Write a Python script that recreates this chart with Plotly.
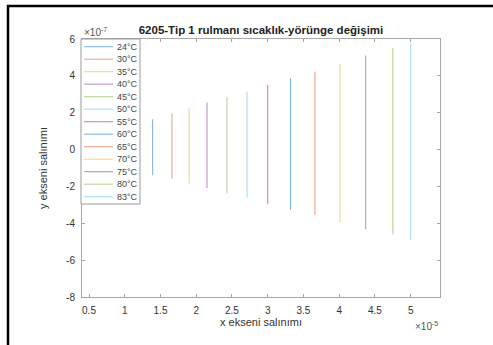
import plotly.graph_objects as go

# ---- data (x in units of 1e-5, y in units of 1e-7) ----
temps = ["24°C", "30°C", "35°C", "40°C", "45°C", "50°C", "55°C",
         "60°C", "65°C", "70°C", "75°C", "80°C", "83°C"]
x_pos = [1.39, 1.66, 1.90, 2.15, 2.43, 2.71, 3.00, 3.32, 3.66, 4.01, 4.37, 4.75, 5.00]
y_top = [1.65, 1.97, 2.24, 2.55, 2.84, 3.15, 3.51, 3.88, 4.24, 4.64, 5.10, 5.52, 5.76]
y_bot = [-1.40, -1.58, -1.85, -2.08, -2.37, -2.62, -2.95, -3.28, -3.55, -3.96, -4.33, -4.60, -4.90]
x_ticks = [0.5, 1, 1.5, 2, 2.5, 3, 3.5, 4, 4.5, 5]
y_ticks = [-8, -6, -4, -2, 0, 2, 4, 6]

colors = ["#0072BD", "#D95319", "#EDB120", "#7E2F8E", "#77AC30", "#4DBEEE", "#A2142F"]

W, H = 493, 345
L, R, T, B = 82, 53, 39, 48
PW, PH = W - L - R, H - T - B

def px_x(p):
    return (p - L) / PW

def px_y(p):
    return (H - B - p) / PH

fig = go.Figure()
for i, t in enumerate(temps):
    fig.add_trace(go.Scatter(
        x=[x_pos[i], x_pos[i]], y=[y_bot[i], y_top[i]], mode="lines",
        line=dict(color=colors[i % 7], width=1.1), opacity=0.5,
        name=t, showlegend=False, hoverinfo="skip"))

shapes = []
annotations = []
# legend box
shapes.append(dict(type="rect", xref="paper", yref="paper",
                   x0=px_x(81), x1=px_x(140), y0=px_y(204), y1=px_y(39),
                   line=dict(color="#9a9a9a", width=1), fillcolor="white", layer="above"))
for i, t in enumerate(temps):
    yy = px_y(46.7 + 12.5 * i)
    shapes.append(dict(type="line", xref="paper", yref="paper",
                       x0=px_x(84), x1=px_x(113), y0=yy, y1=yy,
                       line=dict(color=colors[i % 7], width=1.1), opacity=0.5, layer="above"))
    annotations.append(dict(xref="paper", yref="paper", x=px_x(115), y=yy,
                            text=t, showarrow=False, xanchor="left", yanchor="middle",
                            font=dict(size=9, color="#444")))

# frame lines of the cropped figure
shapes.append(dict(type="line", xref="paper", yref="paper",
                   x0=px_x(8), x1=px_x(8), y0=px_y(5), y1=px_y(346),
                   line=dict(color="black", width=2.5)))
shapes.append(dict(type="line", xref="paper", yref="paper",
                   x0=px_x(7), x1=px_x(494), y0=px_y(6), y1=px_y(6),
                   line=dict(color="black", width=2.5)))

# exponent labels
annotations.append(dict(xref="paper", yref="paper", x=0, y=px_y(32),
                        text="×10<sup>-7</sup>", showarrow=False, xanchor="left",
                        yanchor="middle", font=dict(size=10, color="#555")))
annotations.append(dict(xref="paper", yref="paper", x=1, y=px_y(326),
                        text="×10<sup>-5</sup>", showarrow=False, xanchor="right",
                        yanchor="middle", font=dict(size=10, color="#555")))

axis_common = dict(showline=True, linecolor="#a8a8a8", linewidth=1, mirror="all",
                   ticks="inside", ticklen=3, tickcolor="#a8a8a8", showgrid=False,
                   zeroline=False, tickfont=dict(size=10, color="#333"))

fig.update_layout(
    width=W, height=H,
    margin=dict(l=L, r=R, t=T, b=B),
    paper_bgcolor="white", plot_bgcolor="white",
    font=dict(family="Liberation Sans, Arial, sans-serif", color="#333"),
    title=dict(text="<b>6205-Tip 1 rulmanı sıcaklık-yörünge değişimi</b>",
               x=(L + PW / 2) / W, xanchor="center", y=1 - 30 / H, yanchor="middle",
               font=dict(size=11.5, color="#222")),
    xaxis=dict(range=[0.402, 5.41], tickvals=x_ticks,
               ticktext=[f"{v:g}" for v in x_ticks],
               title=dict(text="x ekseni salınımı", font=dict(size=11, color="#333"), standoff=2),
               ticklabelstandoff=4,
               **axis_common),
    yaxis=dict(range=[-8, 6], tickvals=y_ticks,
               ticktext=[f"{v:g}" for v in y_ticks],
               title=dict(text="y ekseni salınımı", font=dict(size=11, color="#333"), standoff=16),
               ticklabelstandoff=4,
               **axis_common),
    shapes=shapes, annotations=annotations, showlegend=False,
)

fig.write_html("out.html", config={"displayModeBar": False},
               post_script="document.body.style.margin='0';")
